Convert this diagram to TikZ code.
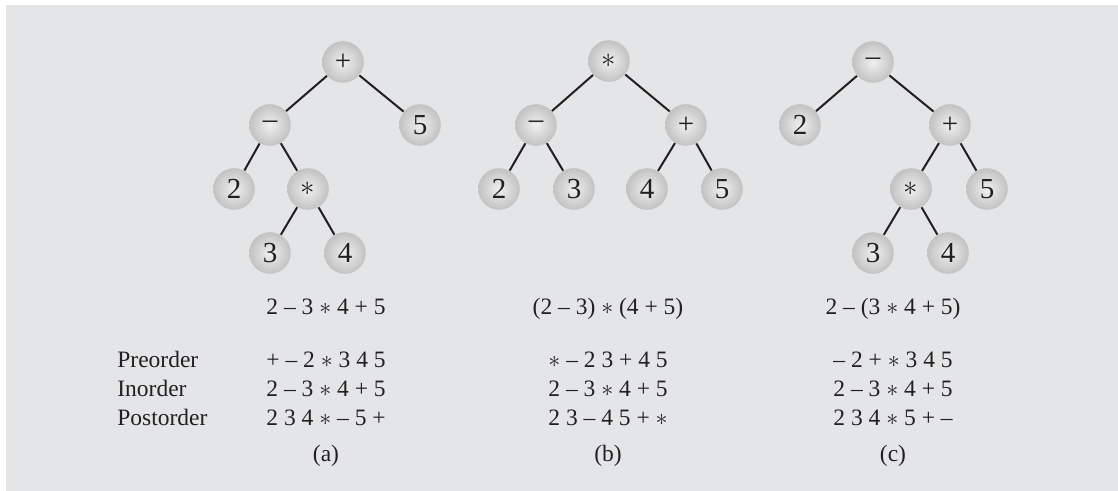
\documentclass[tikz,border=0pt]{standalone}
\usepackage{fontspec}
\setmainfont{Liberation Serif}
\usepackage{tikz}
\definecolor{panelgray}{RGB}{228,229,231}
\definecolor{inkblack}{RGB}{35,31,32}
\newcommand{\opast}{$\ast$}

\begin{document}
\begin{tikzpicture}[x=0.5pt,y=-0.5pt,font=\fontsize{11.75}{14}\selectfont,
  ball/.style={circle,minimum size=20.8pt,inner sep=0pt,text=inkblack,shading=radial,
    inner color=white!94!black,outer color=black!24,font=\fontsize{14.5}{17}\selectfont},
  edge/.style={line width=1pt,draw=inkblack},
  txt/.style={inner sep=0pt,text=inkblack}]
  \useasboundingbox (0,0) rectangle (1118,491);
  \fill[panelgray] (6,5) rectangle (1118,491);

  % tree (a)
  \node[ball] (aRoot) at (343,62) {+};
  \node[ball] (aMinus) at (270,125) {–};
  \node[ball] (aFive) at (420,125) {5};
  \node[ball] (aTwo) at (234,189) {2};
  \node[ball] (aStar) at (308,189) {\opast};
  \node[ball] (aThree) at (270,253) {3};
  \node[ball] (aFour) at (345,253) {4};

  % tree (b)
  \node[ball] (bRoot) at (609,61) {\opast};
  \node[ball] (bMinus) at (536,125) {–};
  \node[ball] (bPlus) at (686,125) {+};
  \node[ball] (bTwo) at (499,189) {2};
  \node[ball] (bThree) at (574,189) {3};
  \node[ball] (bFour) at (647,189) {4};
  \node[ball] (bFive) at (722,189) {5};

  % tree (c)
  \node[ball] (cRoot) at (873,62) {–};
  \node[ball] (cTwo) at (800,125) {2};
  \node[ball] (cPlus) at (950,125) {+};
  \node[ball] (cStar) at (911,189) {\opast};
  \node[ball] (cFive) at (987,189) {5};
  \node[ball] (cThree) at (873,253) {3};
  \node[ball] (cFour) at (948,253) {4};

  \foreach \p/\c in {aRoot/aMinus,aRoot/aFive,aMinus/aTwo,aMinus/aStar,aStar/aThree,aStar/aFour,
    bRoot/bMinus,bRoot/bPlus,bMinus/bTwo,bMinus/bThree,bPlus/bFour,bPlus/bFive,
    cRoot/cTwo,cRoot/cPlus,cPlus/cStar,cPlus/cFive,cStar/cThree,cStar/cFour}
    \draw[edge] (\p) -- (\c);

  \node[txt,anchor=base] (aExpr) at (326,315) {2 – 3 \opast{} 4 + 5};
  \node[txt,anchor=base] (bExpr) at (608,315) {(2 – 3) \opast{} (4 + 5)};
  \node[txt,anchor=base] (cExpr) at (893,315) {2 – (3 \opast{} 4 + 5)};

  \foreach \y/\name/\ta/\tb/\tc in {
    367/Preorder/{+ – 2 \opast{} 3 4 5}/{\opast{} – 2 3 + 4 5}/{– 2 + \opast{} 3 4 5},
    396/Inorder/{2 – 3 \opast{} 4 + 5}/{2 – 3 \opast{} 4 + 5}/{2 – 3 \opast{} 4 + 5},
    425/Postorder/{2 3 4 \opast{} – 5 +}/{2 3 – 4 5 + \opast}/{2 3 4 \opast{} 5 + –}}{
    \node[txt,anchor=base west] (lab\name) at (117,\y) {\name};
    \node[txt,anchor=base west] (a\name) at (266,\y) {\ta};
    \node[txt,anchor=base west] (b\name) at (548,\y) {\tb};
    \node[txt,anchor=base west] (c\name) at (833,\y) {\tc};
  }

  \node[txt,anchor=base] (aCap) at (326,461) {(a)};
  \node[txt,anchor=base] (bCap) at (608,461) {(b)};
  \node[txt,anchor=base] (cCap) at (893,461) {(c)};
\end{tikzpicture}
\end{document}
